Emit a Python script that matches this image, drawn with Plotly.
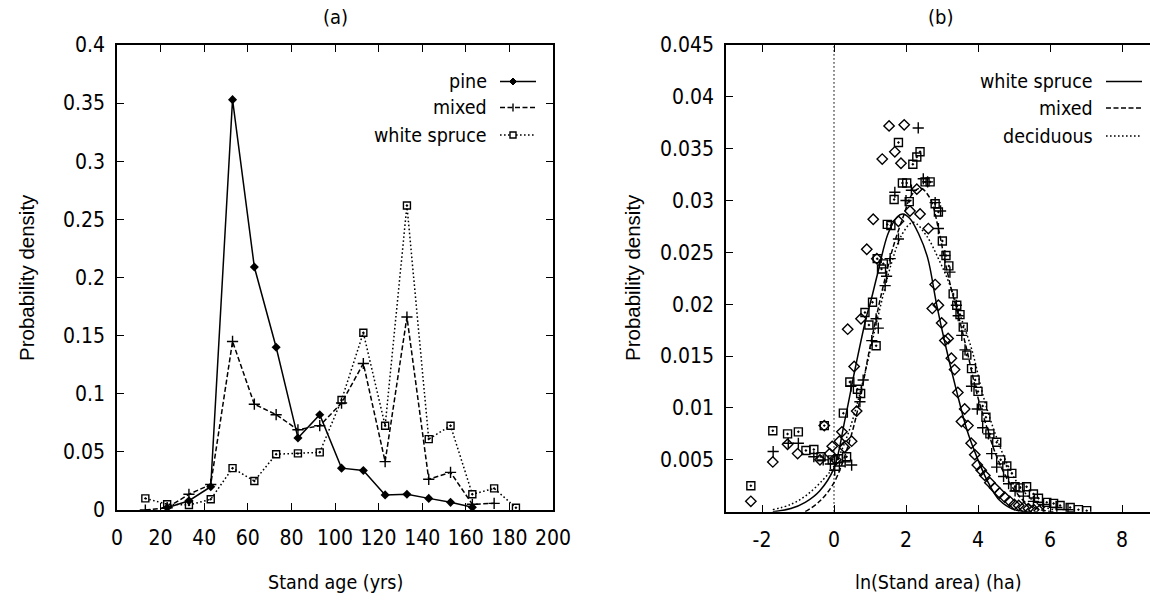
import plotly.graph_objects as go

# ---------------- data: panel (a) ----------------
age_pine = [23, 33, 43, 53, 63, 73, 83, 93, 103, 113, 123, 133, 143, 153, 163]
pine = [0.002, 0.008, 0.020, 0.353, 0.209, 0.140, 0.062, 0.082, 0.036, 0.034, 0.013, 0.0135, 0.010, 0.0066, 0.0023]

age_mixed = [13, 23, 33, 43, 53, 63, 73, 83, 93, 103, 113, 123, 133, 143, 153, 163, 173]
mixed = [0.0, 0.002, 0.0135, 0.022, 0.145, 0.091, 0.082, 0.069, 0.0725, 0.092, 0.126, 0.0416, 0.166, 0.0264, 0.0324, 0.0049, 0.0057]

age_ws = [13, 23, 33, 43, 53, 63, 73, 83, 93, 103, 113, 123, 133, 143, 153, 163, 173, 183]
white_spruce = [0.010, 0.005, 0.0043, 0.0092, 0.036, 0.025, 0.048, 0.0487, 0.0496, 0.0946, 0.1525, 0.0725, 0.262, 0.061, 0.0725, 0.0135, 0.0186, 0.002]

age_ticks = [0, 20, 40, 60, 80, 100, 120, 140, 160, 180, 200]
dens_a_ticks = [0, 0.05, 0.1, 0.15, 0.2, 0.25, 0.3, 0.35, 0.4]
dens_a_labels = ["0", "0.05", "0.1", "0.15", "0.2", "0.25", "0.3", "0.35", "0.4"]

# ---------------- data: panel (b) ----------------
# fitted curves
ws_fit_x = [-1.7, -1.2, -0.8, -0.4, 0.0, 0.3, 0.6, 0.9, 1.0, 1.2, 1.5, 1.75, 1.9, 2.1, 2.35, 2.6, 2.85, 3.1, 3.4, 3.7, 4.0, 4.3, 4.6, 5.0, 5.5]
ws_fit_y = [0.0, 0.0003, 0.0009, 0.0020, 0.0042, 0.0088, 0.0140, 0.0188, 0.0200, 0.0228, 0.0268, 0.0284, 0.0287, 0.0283, 0.0268, 0.0245, 0.0200, 0.0160, 0.0117, 0.0078, 0.0050, 0.0027, 0.0011, 0.0002, 0.0]

mx_fit_x = [-0.8, -0.4, 0.0, 0.44, 0.72, 0.95, 1.19, 1.37, 1.65, 1.93, 2.15, 2.4, 2.67, 2.9, 3.08, 3.27, 3.41, 3.69, 3.96, 4.24, 4.52, 4.89, 5.35, 5.72, 6.1]
mx_fit_y = [0.0, 0.0010, 0.0028, 0.0069, 0.0108, 0.0150, 0.0190, 0.0218, 0.0256, 0.0285, 0.0305, 0.0312, 0.0302, 0.0273, 0.0242, 0.0213, 0.0195, 0.0156, 0.0115, 0.0082, 0.0053, 0.0027, 0.0008, 0.0002, 0.0]

dc_fit_x = [-1.7, -1.2, -0.76, -0.3, 0.0, 0.4, 0.8, 1.2, 1.6, 1.9, 2.2, 2.57, 2.9, 3.18, 3.5, 3.83, 4.15, 4.47, 4.8, 5.17, 5.63, 6.09]
dc_fit_y = [0.0002, 0.0007, 0.0016, 0.0031, 0.0044, 0.0076, 0.0125, 0.0185, 0.0240, 0.0268, 0.0279, 0.0266, 0.0244, 0.0222, 0.0190, 0.0156, 0.0111, 0.0076, 0.0047, 0.0024, 0.0008, 0.0002]

ws_pts_x = [-2.31, -1.70, -1.29, -1.01, -0.39, -0.27, -0.12, -0.05, 0.05, 0.15, 0.22, 0.29, 0.49, 0.63, 0.56, 0.38, 0.75, 0.91, 1.09, 1.19, 1.34, 1.53, 1.69, 1.79, 1.86, 1.95, 2.11, 2.30, 2.39, 2.62, 2.73, 2.81, 2.90, 2.99, 3.08, 3.17, 3.26, 3.35, 3.44, 3.54, 3.63, 3.72, 3.81, 3.91, 3.98, 4.09, 4.19, 4.33, 4.46, 4.60, 4.74, 4.88, 5.01, 5.13, 5.27, 5.40, 5.55, 5.70]
ws_pts_y = [0.0010, 0.0048, 0.0065, 0.0056, 0.0050, 0.0083, 0.0056, 0.0063, 0.0050, 0.0068, 0.0077, 0.0062, 0.0068, 0.0097, 0.0140, 0.0176, 0.0186, 0.0253, 0.0282, 0.0244, 0.0340, 0.0372, 0.0347, 0.0280, 0.0336, 0.0373, 0.0290, 0.0311, 0.0287, 0.0273, 0.0196, 0.0219, 0.0199, 0.0182, 0.0165, 0.0167, 0.0148, 0.0137, 0.0115, 0.0087, 0.0099, 0.0083, 0.0066, 0.0055, 0.0045, 0.0040, 0.0035, 0.0028, 0.0023, 0.0018, 0.0014, 0.0010, 0.0007, 0.0006, 0.0004, 0.0003, 0.0002, 0.0001]

mx_pts_x = [-1.69, -1.27, -0.99, -0.56, -0.30, -0.10, 0.02, 0.15, 0.31, 0.49, 0.47, 0.72, 0.81, 1.05, 1.23, 1.17, 1.42, 1.46, 1.56, 1.69, 1.79, 2.00, 2.15, 2.34, 2.48, 2.60, 2.81, 2.96, 2.90, 3.08, 3.22, 3.45, 3.40, 3.55, 3.64, 3.82, 3.98, 4.13, 4.29, 4.38, 4.52, 4.71, 4.85, 5.03, 5.26, 5.54, 5.82, 6.19, 6.50]
mx_pts_y = [0.0058, 0.0066, 0.0066, 0.0053, 0.0050, 0.0046, 0.0040, 0.0044, 0.0048, 0.0045, 0.0121, 0.0106, 0.0127, 0.0165, 0.0177, 0.0186, 0.0218, 0.0227, 0.0244, 0.0308, 0.0263, 0.0300, 0.0310, 0.0370, 0.0321, 0.0318, 0.0298, 0.0290, 0.0273, 0.0247, 0.0231, 0.0189, 0.0199, 0.0170, 0.0156, 0.0121, 0.0099, 0.0081, 0.0075, 0.0056, 0.0043, 0.0034, 0.0027, 0.0020, 0.0015, 0.0010, 0.0007, 0.0004, 0.0002]

dc_pts_x = [-2.31, -1.70, -1.29, -0.99, -0.78, -0.56, -0.36, -0.27, -0.05, 0.12, 0.35, 0.26, 0.44, 0.65, 0.74, 0.86, 0.97, 1.07, 1.17, 1.20, 1.32, 1.37, 1.48, 1.58, 1.67, 1.79, 1.90, 2.02, 2.09, 2.19, 2.30, 2.39, 2.53, 2.67, 2.81, 2.90, 3.01, 3.11, 3.19, 3.31, 3.41, 3.50, 3.59, 3.69, 3.82, 3.92, 4.00, 4.13, 4.22, 4.33, 4.52, 4.63, 4.80, 4.94, 5.03, 5.17, 5.35, 5.54, 5.68, 5.91, 6.10, 6.28, 6.56, 6.79, 7.02]
dc_pts_y = [0.0025, 0.0078, 0.0075, 0.0077, 0.0059, 0.0060, 0.0053, 0.0083, 0.0050, 0.0051, 0.0053, 0.0095, 0.0125, 0.0118, 0.0114, 0.0192, 0.0180, 0.0202, 0.0160, 0.0244, 0.0234, 0.0239, 0.0277, 0.0276, 0.0301, 0.0356, 0.0317, 0.0317, 0.0299, 0.0335, 0.0342, 0.0347, 0.0318, 0.0318, 0.0297, 0.0289, 0.0261, 0.0247, 0.0237, 0.0210, 0.0199, 0.0190, 0.0178, 0.0151, 0.0138, 0.0127, 0.0116, 0.0102, 0.0091, 0.0075, 0.0067, 0.0050, 0.0044, 0.0037, 0.0024, 0.0023, 0.0024, 0.0017, 0.0013, 0.0009, 0.0008, 0.0006, 0.0004, 0.0002, 0.0001]

area_ticks = [-2, 0, 2, 4, 6, 8]
dens_b_ticks = [0.005, 0.01, 0.015, 0.02, 0.025, 0.03, 0.035, 0.04, 0.045]
dens_b_labels = ["0.005", "0.01", "0.015", "0.02", "0.025", "0.03", "0.035", "0.04", "0.045"]

# ---------------- layout helpers ----------------
W, H = 1150, 611
def px(x):
    return x / W
def py(y):
    return 1 - y / H

NARROW = "DejaVu Sans Condensed, Liberation Sans Narrow, Arial Narrow, Liberation Sans, sans-serif"
REG = "Liberation Sans, Arial, sans-serif"
BLK = "black"
DASH = "5px,2.5px"
DOT = "1.6px,2.4px"
LW = 1.5

fig = go.Figure()

# panel (a)
fig.add_trace(go.Scatter(x=age_pine, y=pine, mode="lines+markers", name="pine",
                         line=dict(color=BLK, width=LW),
                         marker=dict(symbol="diamond", size=7, color=BLK),
                         xaxis="x", yaxis="y"))
fig.add_trace(go.Scatter(x=age_mixed, y=mixed, mode="lines+markers", name="mixed",
                         line=dict(color=BLK, width=LW, dash=DASH),
                         marker=dict(symbol="cross-thin-open", size=8, color=BLK, line=dict(color=BLK, width=1.4)),
                         xaxis="x", yaxis="y"))
fig.add_trace(go.Scatter(x=age_ws, y=white_spruce, mode="lines+markers", name="white spruce",
                         line=dict(color=BLK, width=LW, dash=DOT),
                         marker=dict(symbol="square-open-dot", size=7, color=BLK, line=dict(color=BLK, width=1.4)),
                         xaxis="x", yaxis="y"))

# panel (b) points
fig.add_trace(go.Scatter(x=ws_pts_x, y=ws_pts_y, mode="markers", name="white spruce data",
                         marker=dict(symbol="diamond-open", size=8, color=BLK, line=dict(color=BLK, width=1.4)),
                         xaxis="x2", yaxis="y2"))
fig.add_trace(go.Scatter(x=mx_pts_x, y=mx_pts_y, mode="markers", name="mixed data",
                         marker=dict(symbol="cross-thin-open", size=8, color=BLK, line=dict(color=BLK, width=1.4)),
                         xaxis="x2", yaxis="y2"))
fig.add_trace(go.Scatter(x=dc_pts_x, y=dc_pts_y, mode="markers", name="deciduous data",
                         marker=dict(symbol="square-open-dot", size=8, color=BLK, line=dict(color=BLK, width=1.4)),
                         xaxis="x2", yaxis="y2"))
# panel (b) curves
fig.add_trace(go.Scatter(x=ws_fit_x, y=ws_fit_y, mode="lines", name="white spruce",
                         line=dict(color=BLK, width=LW, shape="spline"), xaxis="x2", yaxis="y2"))
fig.add_trace(go.Scatter(x=mx_fit_x, y=mx_fit_y, mode="lines", name="mixed",
                         line=dict(color=BLK, width=LW, dash=DASH, shape="spline"), xaxis="x2", yaxis="y2"))
fig.add_trace(go.Scatter(x=dc_fit_x, y=dc_fit_y, mode="lines", name="deciduous",
                         line=dict(color=BLK, width=LW, dash=DOT, shape="spline"), xaxis="x2", yaxis="y2"))

tickfont = dict(family=NARROW, size=21, color=BLK)
axis_common = dict(showline=True, linecolor=BLK, linewidth=1.6, ticks="inside", ticklen=7,
                   tickcolor=BLK, tickwidth=1.4, showgrid=False, zeroline=False, tickfont=tickfont,
                   automargin=False)

fig.update_layout(
    width=W, height=H, autosize=False,
    margin=dict(l=0, r=0, t=0, b=0, pad=0, autoexpand=False),
    paper_bgcolor="white", plot_bgcolor="white", showlegend=False,
    xaxis=dict(domain=[px(117), px(553)], range=[0, 200], tickvals=age_ticks,
               ticktext=[str(v) for v in age_ticks], mirror="ticks", anchor="y",
               ticklabelstandoff=8, **axis_common),
    yaxis=dict(domain=[py(510), py(45)], range=[0, 0.4], tickvals=dens_a_ticks,
               ticktext=dens_a_labels, mirror="ticks", anchor="x",
               ticklabelstandoff=6, **axis_common),
    xaxis2=dict(domain=[px(726), 1.0], range=[-3, (1150 - 834) / 36], tickvals=area_ticks,
                ticktext=[str(v) for v in area_ticks], mirror="ticks", anchor="y2",
                ticklabelstandoff=8, **axis_common),
    yaxis2=dict(domain=[py(511.7), py(45)], range=[0, 0.045], tickvals=dens_b_ticks,
                ticktext=dens_b_labels, mirror=False, anchor="x2",
                ticklabelstandoff=6, **axis_common),
)

shapes = []
# zero axis in (b)
shapes.append(dict(type="line", xref="x2", x0=0, x1=0, yref="y2 domain", y0=0, y1=1,
                   line=dict(color=BLK, width=1, dash=DOT)))

annotations = []
def text(x, y, s, size=21, family=NARROW, xanchor="center", angle=0):
    annotations.append(dict(x=px(x), y=py(y), xref="paper", yref="paper", text=s, showarrow=False,
                            xanchor=xanchor, yanchor="middle", textangle=angle,
                            font=dict(family=family, size=size, color=BLK)))

# titles
text(335, 17, "(a)", size=20)
text(940, 17, "(b)", size=20)
text(335, 582, "Stand age (yrs)", size=19.5)
text(938, 582, "ln(Stand area) (ha)", size=19.5)
text(26, 278, "Probability density", size=20.5, family=REG, angle=-90)
text(632, 278, "Probability density", size=20.5, family=REG, angle=-90)

# legend (a)
LEG = 19.5
leg_a = [("pine", 81.5, "solid", "diamond"), ("mixed", 107.5, DASH, "plus"), ("white spruce", 135, DOT, "square")]
for name, yy, dash, mk in leg_a:
    text(489, yy, name, size=LEG, xanchor="right")
    shapes.append(dict(type="line", xref="paper", yref="paper", x0=px(500), x1=px(536), y0=py(yy), y1=py(yy),
                       line=dict(color=BLK, width=LW, dash=dash)))
    cx = 513
    if mk == "diamond":
        path = f"M {px(cx-3.5)},{py(yy)} L {px(cx)},{py(yy-3.5)} L {px(cx+3.5)},{py(yy)} L {px(cx)},{py(yy+3.5)} Z"
        shapes.append(dict(type="path", xref="paper", yref="paper", path=path, fillcolor=BLK, line=dict(color=BLK, width=1)))
    elif mk == "plus":
        shapes.append(dict(type="line", xref="paper", yref="paper", x0=px(cx), x1=px(cx), y0=py(yy-4), y1=py(yy+4),
                           line=dict(color=BLK, width=1.4)))
    else:
        shapes.append(dict(type="rect", xref="paper", yref="paper", x0=px(cx-3), x1=px(cx+3), y0=py(yy-3), y1=py(yy+3),
                           fillcolor="white", line=dict(color=BLK, width=1.4)))

# legend (b)
leg_b = [("white spruce", 81.5, "solid"), ("mixed", 108, DASH), ("deciduous", 136, DOT)]
for name, yy, dash in leg_b:
    text(1095, yy, name, size=LEG, xanchor="right")
    shapes.append(dict(type="line", xref="paper", yref="paper", x0=px(1106), x1=px(1142), y0=py(yy), y1=py(yy),
                       line=dict(color=BLK, width=LW, dash=dash)))

fig.update_layout(shapes=shapes, annotations=annotations)
fig.write_html("out.html")
